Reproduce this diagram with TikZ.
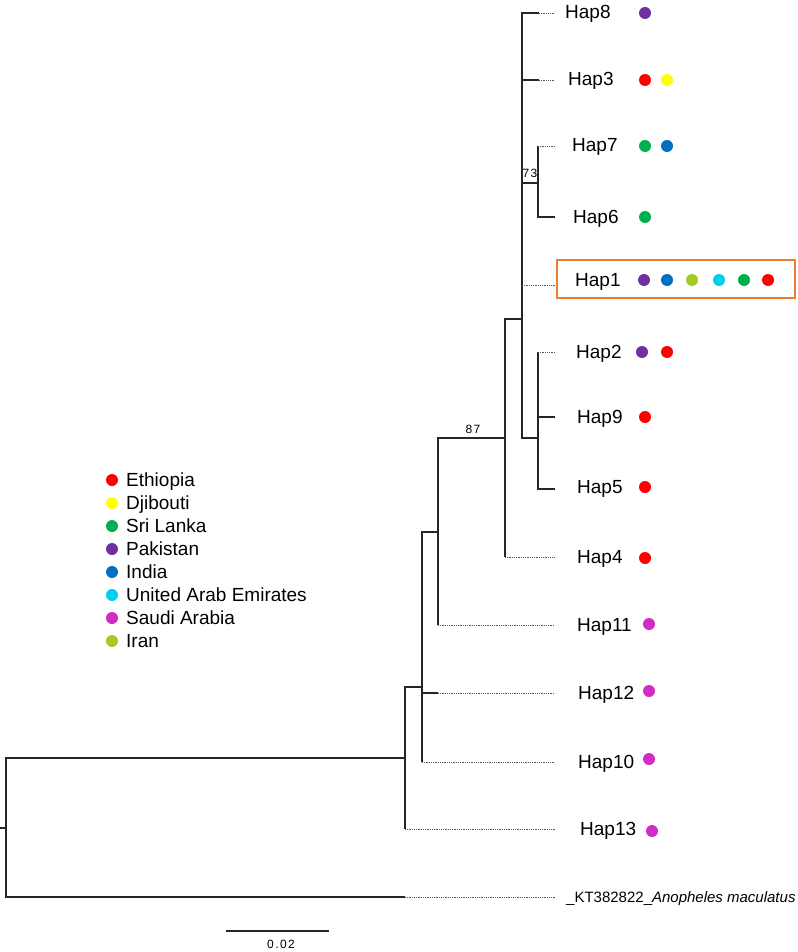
\documentclass[tikz,border=0pt]{standalone}
\usepackage{fontspec}
\setmainfont{Liberation Sans}
\usetikzlibrary{positioning}

\definecolor{ethiopia}{HTML}{FF0000}
\definecolor{djibouti}{HTML}{FFFF00}
\definecolor{srilanka}{HTML}{00B050}
\definecolor{pakistan}{HTML}{7030A0}
\definecolor{india}{HTML}{0070C0}
\definecolor{uae}{HTML}{00D0F0}
\definecolor{saudi}{HTML}{D22BC6}
\definecolor{iran}{HTML}{A5C925}
\definecolor{boxorange}{HTML}{ED7D31}

\begin{document}
\begin{tikzpicture}[%
    x=1pt, y=-1pt,
    branch/.style={%
        draw=black!85,
        line width=1.2pt
    },
    extension/.style={%
        draw=black!65,
        line width=0.7pt,
        dash pattern=on 0.9pt off 0.9pt
    },
    hapLabel/.style={%
        anchor=base west,
        inner sep=0pt,
        yshift=-6pt,
        font=\fontsize{19}{22}\selectfont
    },
    legendLabel/.style={%
        anchor=base west,
        inner sep=0pt,
        yshift=-6pt,
        font=\fontsize{19}{22}\selectfont
    },
    popDot/.style={%
        circle,
        fill=#1,
        inner sep=0pt,
        minimum size=12pt
    },
    support/.style={%
        anchor=base,
        inner sep=0pt,
        font=\fontsize{12}{14}\selectfont\addfontfeature{LetterSpace=12}
    },
    hapBox/.style={%
        draw=boxorange,
        line width=2pt,
        minimum width=238pt,
        minimum height=38pt
    }
]
\useasboundingbox (0,0) rectangle (797,952);

% Internal nodes
    \coordinate (stem) at (0,828);
    \coordinate (root) at (6,828);
    \coordinate (cladeA) at (405,758);
    \coordinate (cladeB) at (422,687);
    \coordinate (cladeC) at (438,532);
    \coordinate (cladeD) at (505,438);
    \coordinate (cladeE) at (522,319);
    \coordinate (cladeF) at (538,183);
    \coordinate (cladeG) at (538,438);
    \coordinate (labelEnd) at (555,0);

% Branch tips
    \coordinate (tipHap8) at (539,13);
    \coordinate (tipHap3) at (539,80);
    \coordinate (tipHap7) at (538,146);
    \coordinate (tipHap6) at (555,217);
    \coordinate (tipHap1) at (522,285);
    \coordinate (tipHap2) at (538,352);
    \coordinate (tipHap9) at (555,417);
    \coordinate (tipHap5) at (555,489);
    \coordinate (tipHap4) at (505,557);
    \coordinate (tipHap11) at (438,625);
    \coordinate (tipHap12) at (438,693);
    \coordinate (tipHap10) at (422,762);
    \coordinate (tipHap13) at (405,829);
    \coordinate (tipOut) at (405,897);

% Haplotype labels
    \node[hapLabel] (hap8) at (565,13) {Hap8};
    \node[hapLabel] (hap3) at (568,80) {Hap3};
    \node[hapLabel] (hap7) at (572,146) {Hap7};
    \node[hapLabel] (hap6) at (573,217) {Hap6};
    \node[hapLabel] (hap1) at (575,280) {Hap1};
    \node[hapLabel] (hap2) at (576,352) {Hap2};
    \node[hapLabel] (hap9) at (577,417) {Hap9};
    \node[hapLabel] (hap5) at (577,487) {Hap5};
    \node[hapLabel] (hap4) at (577,557) {Hap4};
    \node[hapLabel] (hap11) at (577,625) {Hap11};
    \node[hapLabel] (hap12) at (578,693) {Hap12};
    \node[hapLabel] (hap10) at (578,762) {Hap10};
    \node[hapLabel] (hap13) at (580,829) {Hap13};
    \node[anchor=base west, inner sep=0pt, yshift=-5pt,
        font=\fontsize{15}{18}\selectfont] (outgroup) at (566,897)
        {\_KT382822\_\textit{Anopheles maculatus}};

% Hap1 box
    \node[hapBox] (box1) at (676,279) {};

% Population dots
    \node[popDot=pakistan] (dotHap8a) at (645,13) {};
    \node[popDot=ethiopia] (dotHap3a) at (645,80) {};
    \node[popDot=djibouti] (dotHap3b) at (667,80) {};
    \node[popDot=srilanka] (dotHap7a) at (645,146) {};
    \node[popDot=india] (dotHap7b) at (667,146) {};
    \node[popDot=srilanka] (dotHap6a) at (645,217) {};
    \node[popDot=pakistan] (dotHap1a) at (644,280) {};
    \node[popDot=india] (dotHap1b) at (667,280) {};
    \node[popDot=iran] (dotHap1c) at (692,280) {};
    \node[popDot=uae] (dotHap1d) at (719,280) {};
    \node[popDot=srilanka] (dotHap1e) at (744,280) {};
    \node[popDot=ethiopia] (dotHap1f) at (768,280) {};
    \node[popDot=pakistan] (dotHap2a) at (642,352) {};
    \node[popDot=ethiopia] (dotHap2b) at (667,352) {};
    \node[popDot=ethiopia] (dotHap9a) at (645,417) {};
    \node[popDot=ethiopia] (dotHap5a) at (645,487) {};
    \node[popDot=ethiopia] (dotHap4a) at (645,558) {};
    \node[popDot=saudi] (dotHap11a) at (649,624) {};
    \node[popDot=saudi] (dotHap12a) at (649,691) {};
    \node[popDot=saudi] (dotHap10a) at (649,759) {};
    \node[popDot=saudi] (dotHap13a) at (652,831) {};

% Support values
    \node[support] (boot87) at (473,433) {87};
    \node[support] (boot73) at (530,178) {73};

% Legend
    \node[popDot=ethiopia] (keyEthiopia) at (112,480) {};
    \node[popDot=djibouti] (keyDjibouti) at (112,503) {};
    \node[popDot=srilanka] (keySriLanka) at (112,526) {};
    \node[popDot=pakistan] (keyPakistan) at (112,549) {};
    \node[popDot=india] (keyIndia) at (112,572) {};
    \node[popDot=uae] (keyUAE) at (112,595) {};
    \node[popDot=saudi] (keySaudi) at (112,618) {};
    \node[popDot=iran] (keyIran) at (112,641) {};
    \node[legendLabel] (nameEthiopia) at (126,480) {Ethiopia};
    \node[legendLabel] (nameDjibouti) at (126,503) {Djibouti};
    \node[legendLabel] (nameSriLanka) at (126,526) {Sri Lanka};
    \node[legendLabel] (namePakistan) at (126,549) {Pakistan};
    \node[legendLabel] (nameIndia) at (126,572) {India};
    \node[legendLabel] (nameUAE) at (126,595) {United Arab Emirates};
    \node[legendLabel] (nameSaudi) at (126,618) {Saudi Arabia};
    \node[legendLabel] (nameIran) at (126,641) {Iran};

% Scale bar
    \coordinate (scaleLeft) at (226,931);
    \coordinate (scaleRight) at (329,931);
    \node[support] (scaleLabel) at (281,948) {0.02};

% Branches
\draw[branch] (stem) -- (root);
\draw[branch] (root) |- (cladeA);
\draw[branch] (root) |- (tipOut);

\draw[branch] (cladeA) |- (cladeB);
\draw[branch] (cladeA) |- (tipHap13);

\draw[branch] (cladeB) |- (cladeC);
\draw[branch] (cladeB) |- (tipHap12);
\draw[branch] (cladeB) |- (tipHap10);

\draw[branch] (cladeC) |- (cladeD);
\draw[branch] (cladeC) |- (tipHap11);

\draw[branch] (cladeD) |- (cladeE);
\draw[branch] (cladeD) |- (tipHap4);

\draw[branch] (cladeE) |- (tipHap8);
\draw[branch] (cladeE) |- (tipHap3);
\draw[branch] (cladeE) |- (cladeF);
\draw[branch] (cladeE) |- (tipHap1);
\draw[branch] (cladeE) |- (cladeG);

\draw[branch] (cladeF) |- (tipHap7);
\draw[branch] (cladeF) |- (tipHap6);

\draw[branch] (cladeG) |- (tipHap2);
\draw[branch] (cladeG) |- (tipHap9);
\draw[branch] (cladeG) |- (tipHap5);

% Dotted extensions
\draw[extension] (tipHap8) -- (tipHap8 -| labelEnd);
\draw[extension] (tipHap3) -- (tipHap3 -| labelEnd);
\draw[extension] (tipHap7) -- (tipHap7 -| labelEnd);
\draw[extension] (tipHap1) -- (tipHap1 -| labelEnd);
\draw[extension] (tipHap2) -- (tipHap2 -| labelEnd);
\draw[extension] (tipHap4) -- (tipHap4 -| labelEnd);
\draw[extension] (tipHap11) -- (tipHap11 -| labelEnd);
\draw[extension] (tipHap12) -- (tipHap12 -| labelEnd);
\draw[extension] (tipHap10) -- (tipHap10 -| labelEnd);
\draw[extension] (tipHap13) -- (tipHap13 -| labelEnd);
\draw[extension] (tipOut) -- (tipOut -| labelEnd);

\draw[branch] (scaleLeft) -- (scaleRight);

\end{tikzpicture}
\end{document}
